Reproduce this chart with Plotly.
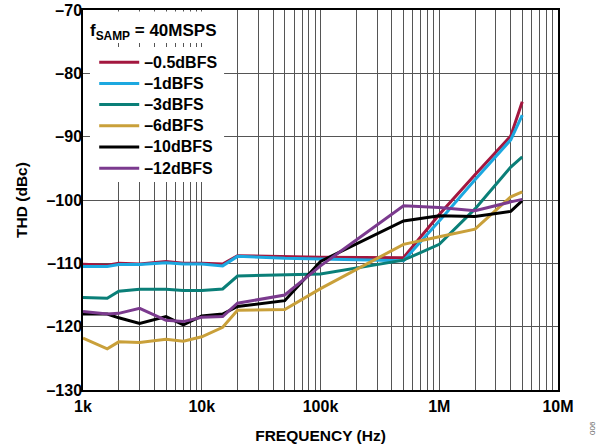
import plotly.graph_objects as go

# Frequencies (Hz)
freq = [1e3, 1.6e3, 2e3, 3e3, 5e3, 7e3, 1e4, 1.5e4, 2e4, 5e4, 1e5, 5e5, 1e6, 2e6, 4e6, 5e6]

# THD (dBc) per input level
thd_m0p5 = [-110.15, -110.3, -110.0, -110.1, -109.7, -110.0, -110.0, -110.1, -108.8, -109.0, -109.05, -109.1, -102.3, -96.0, -89.9, -84.5]
thd_m1 = [-110.5, -110.5, -110.2, -110.2, -109.9, -110.1, -110.1, -110.4, -108.9, -109.2, -109.3, -109.6, -103.3, -96.8, -90.5, -86.6]
thd_m3 = [-115.4, -115.5, -114.4, -114.1, -114.1, -114.3, -114.3, -114.05, -112.0, -111.8, -111.7, -109.5, -107.0, -101.4, -94.8, -93.2]
thd_m6 = [-121.8, -123.5, -122.4, -122.5, -122.0, -122.3, -121.6, -120.1, -117.4, -117.3, -114.0, -107.0, -105.8, -104.6, -99.5, -98.7]
thd_m10 = [-118.0, -118.0, -118.6, -119.5, -118.4, -119.7, -118.3, -118.0, -116.8, -115.9, -109.7, -103.3, -102.5, -102.6, -101.8, -100.1]
thd_m12 = [-117.6, -118.0, -117.9, -117.1, -119.0, -119.2, -118.5, -118.4, -116.3, -115.0, -110.4, -100.9, -101.2, -101.7, -100.3, -99.9]

series_names = ["\u20130.5dBFS", "\u20131dBFS", "\u20133dBFS", "\u20136dBFS", "\u201310dBFS", "\u201312dBFS"]
series_vals = [thd_m0p5, thd_m1, thd_m3, thd_m6, thd_m10, thd_m12]
series_colors = ["#A3173F", "#1CA8E0", "#0A7F78", "#C9A03A", "#000000", "#7B3A8E"]

y_ticks = [-70, -80, -90, -100, -110, -120, -130]
y_ticktext = ["\u201370", "\u201380", "\u201390", "\u2013100", "\u2013110", "\u2013120", "\u2013130"]

x_major = [1e3, 1e4, 1e5, 1e6, 1e7]
x_major_text = ["1k", "10k", "100k", "1M", "10M"]
x_minor = [m * 10 ** d for d in range(3, 7) for m in range(2, 10)]

FONT = "Liberation Sans, Arial, sans-serif"
GRID = "#555555"

fig = go.Figure()
for name, vals, col in zip(series_names, series_vals, series_colors):
    fig.add_trace(go.Scatter(x=freq, y=vals, mode="lines",
                             name='<span style="font-size:16px">' + name + "</span>",
                             line=dict(color=col, width=3)))

fig.update_layout(
    width=603, height=447,
    margin=dict(l=83, r=45, t=10, b=57, autoexpand=False),
    paper_bgcolor="white", plot_bgcolor="white",
    font=dict(family=FONT, size=16, color="black"),
    showlegend=True,
    legend=dict(x=0.0236, y=0.9037, xanchor="left", yanchor="top",
                bgcolor="rgba(0,0,0,0)", borderwidth=0,
                font=dict(family=FONT, size=14, color="black", weight="bold"),
                itemwidth=40, tracegroupgap=0),
    xaxis=dict(type="log", range=[3, 7], tickmode="array",
               tickvals=x_major, ticktext=x_major_text,
               showgrid=True, gridcolor=GRID, gridwidth=1,
               minor=dict(tickmode="array", tickvals=x_minor, showgrid=True,
                          gridcolor=GRID, gridwidth=1, ticks=""),
               showline=True, linecolor="black", linewidth=1.5, mirror=True,
               ticks="", zeroline=False, automargin=False,
               ticklabelstandoff=1, ticklabeloverflow="allow",
               tickfont=dict(family=FONT, size=16, weight="bold"),
               title=dict(text="FREQUENCY (Hz)", standoff=16,
                          font=dict(family=FONT, size=15.5, weight="bold"))),
    yaxis=dict(range=[-130, -70], tickmode="array",
               tickvals=y_ticks, ticktext=y_ticktext,
               showgrid=True, gridcolor=GRID, gridwidth=1,
               showline=True, linecolor="black", linewidth=1.5, mirror=True,
               ticks="", zeroline=False, automargin=False,
               ticklabelstandoff=-4, ticklabeloverflow="allow",
               tickfont=dict(family=FONT, size=16, weight="bold"),
               title=dict(text="THD (dBc)", standoff=15,
                          font=dict(family=FONT, size=15.5, weight="bold"))),
)

# white boxes behind the title and legend, hiding the grid
fig.add_shape(type="rect", xref="paper", yref="paper",
              x0=0.0147, x1=0.297, y0=0.9132, y1=0.996,
              fillcolor="white", line=dict(width=0), layer="above")
fig.add_shape(type="rect", xref="paper", yref="paper",
              x0=0.0147, x1=0.297, y0=0.5474, y1=0.9026,
              fillcolor="white", line=dict(width=0), layer="above")

fig.add_annotation(xref="paper", yref="paper", x=0.011, y=0.9421,
                   xanchor="left", yanchor="middle", showarrow=False,
                   text="<b>f<sub>SAMP</sub> = 40MSPS</b>",
                   font=dict(family=FONT, size=17, color="black"))

fig.add_annotation(xref="paper", yref="paper", x=1.0716, y=-0.10,
                   xanchor="center", yanchor="middle", showarrow=False,
                   text="006", textangle=-90,
                   font=dict(family=FONT, size=8, color="#666666"))

# remove the default page margin so the figure fills the window exactly
fig.write_html("out.html", config={"displayModeBar": False},
               post_script="document.body.style.margin='0';")
